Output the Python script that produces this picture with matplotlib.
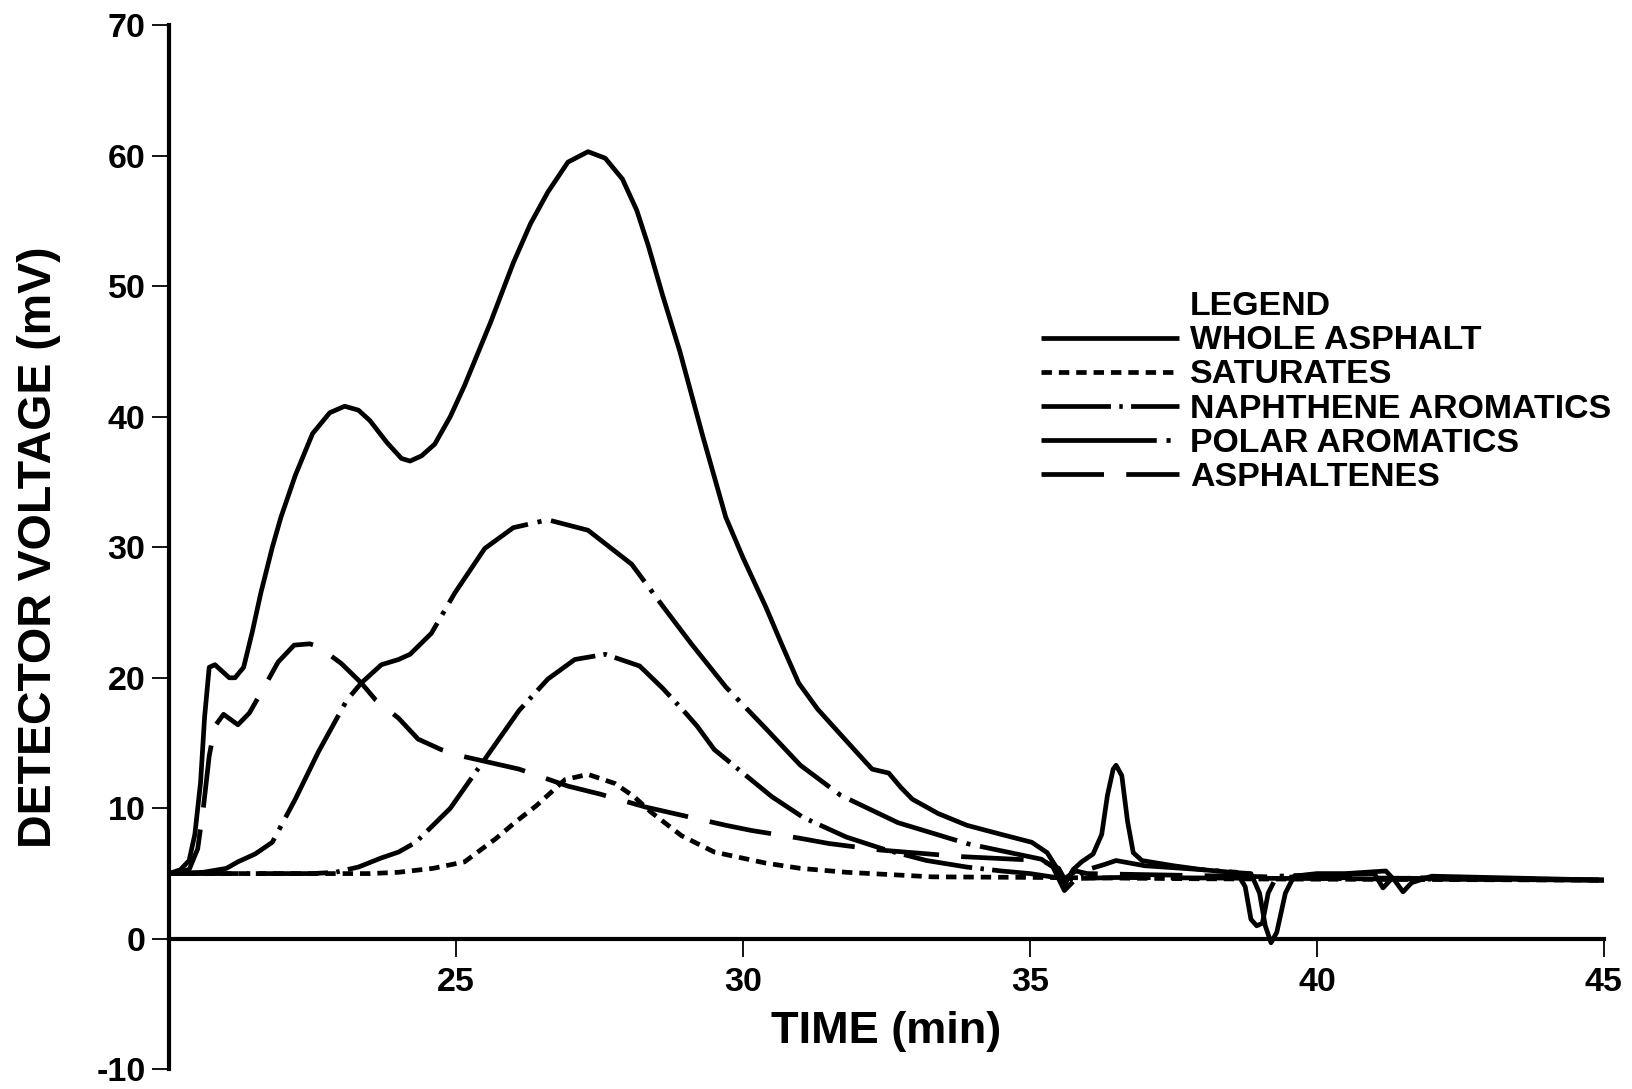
import numpy as np
import matplotlib
matplotlib.use("Agg")
import matplotlib.pyplot as plt
from matplotlib.lines import Line2D

# 데이터
t_whole = [20.0, 20.2, 20.35, 20.45, 20.55, 20.62, 20.7, 20.8, 20.9, 21.05, 21.15, 21.3, 21.45, 21.6,
           21.8, 21.95, 22.2, 22.5, 22.8, 23.06, 23.3, 23.5, 23.8, 24.05, 24.2, 24.4, 24.63, 24.9,
           25.15, 25.6, 26.0, 26.3, 26.6, 26.95, 27.3, 27.6, 27.9, 28.15, 28.35, 28.6, 28.9, 29.3,
           29.7, 30.0, 30.4, 30.7, 30.97, 31.3, 31.67, 32.0, 32.25, 32.54, 32.75, 32.95, 33.4, 33.9,
           34.5, 35.03, 35.3, 35.5, 35.6, 35.75, 35.9, 36.1, 36.25, 36.35, 36.45, 36.5, 36.6, 36.7,
           36.8, 36.95, 37.5, 38.0, 38.5, 38.85, 39.0, 39.1, 39.2, 39.3, 39.45, 39.6, 40.0, 40.5,
           41.2, 41.35, 41.5, 41.65, 42.0, 43.0, 44.0, 45.0]
v_whole = [5.0, 5.3, 6.0, 8.0, 12.0, 17.0, 20.8, 21.0, 20.6, 20.0, 20.0, 20.8, 23.5, 26.5,
           30.0, 32.3, 35.5, 38.7, 40.3, 40.8, 40.5, 39.7, 38.0, 36.8, 36.6, 37.0, 37.9, 40.0,
           42.4, 47.2, 51.8, 54.8, 57.2, 59.5, 60.3, 59.8, 58.2, 55.8, 53.1, 49.3, 45.0, 38.5,
           32.3, 29.2, 25.4, 22.3, 19.6, 17.6, 15.8, 14.2, 13.0, 12.7, 11.6, 10.7, 9.6, 8.7,
           8.0, 7.4, 6.6, 5.2, 4.1, 5.3, 5.9, 6.5, 8.0, 11.0, 13.0, 13.3, 12.5, 9.0,
           6.6, 6.0, 5.6, 5.3, 5.1, 5.0, 3.5, 1.0, -0.3, 0.5, 3.5, 4.8, 5.0, 5.0,
           5.2, 4.5, 3.6, 4.3, 4.8, 4.7, 4.6, 4.5]

t_sat = [20.0, 23.5, 24.0, 24.6, 25.15, 25.7, 26.05, 26.4, 26.9, 27.3, 27.77, 28.1, 28.4, 28.93,
         29.5, 30.4, 31.0, 31.8, 33.3, 35.3, 38.0, 45.0]
v_sat = [5.0, 5.0, 5.1, 5.4, 5.9, 7.7, 9.0, 10.2, 12.2, 12.6, 11.9, 10.9, 9.7, 7.9,
         6.65, 5.8, 5.4, 5.1, 4.75, 4.7, 4.6, 4.5]

t_naph = [20.0, 22.5, 22.9, 23.3, 23.7, 24.0, 24.3, 24.6, 24.9, 25.3, 25.7, 26.1, 26.6, 27.07,
          27.6, 28.2, 28.6, 29.0, 29.2, 29.5, 30.0, 30.5, 31.05, 31.8, 32.5, 33.2, 33.9, 34.5,
          35.0, 35.6, 36.5, 45.0]
v_naph = [5.0, 5.0, 5.1, 5.5, 6.2, 6.65, 7.4, 8.7, 10.0, 12.5, 15.0, 17.5, 19.9, 21.4,
          21.8, 20.9, 19.2, 17.3, 16.3, 14.5, 12.7, 10.9, 9.3, 7.8, 6.8, 6.0, 5.5, 5.2,
          5.0, 4.6, 4.7, 4.5]

t_polar = [20.0, 20.6, 21.0, 21.2, 21.5, 21.8, 22.2, 22.6, 23.1, 23.35, 23.7, 24.0, 24.2, 24.57,
           24.98, 25.5, 26.0, 26.6, 27.3, 28.06, 28.6, 29.1, 29.7, 30.4, 31.0, 31.7, 32.7, 33.9,
           35.2, 35.4, 35.6, 35.8, 36.0, 36.3, 36.5, 37.0, 38.0, 38.6, 38.75, 38.85, 38.95, 39.05,
           39.15, 39.3, 40.0, 41.0, 41.15, 41.3, 42.0, 45.0]
v_polar = [5.0, 5.1, 5.4, 5.9, 6.5, 7.4, 10.7, 14.3, 18.3, 19.6, 21.0, 21.4, 21.8, 23.4,
           26.5, 29.9, 31.5, 32.1, 31.3, 28.7, 25.5, 22.6, 19.3, 16.1, 13.3, 11.0, 8.9, 7.3,
           6.1, 5.5, 3.7, 4.6, 5.3, 5.7, 6.0, 5.6, 5.3, 5.1, 4.0, 1.5, 1.0, 1.2,
           3.5, 4.8, 4.9, 5.0, 3.9, 4.6, 4.7, 4.5]

t_asph = [20.0, 20.35, 20.5, 20.6, 20.7, 20.8, 20.95, 21.2, 21.4, 21.66, 21.9, 22.18, 22.45, 22.6,
          23.0, 23.35, 23.6, 24.0, 24.34, 24.74, 25.1, 25.6, 26.1, 26.95, 27.5, 28.3, 28.8, 29.2,
          29.7, 30.15, 31.0, 31.5, 32.4, 33.8, 35.2, 35.5, 35.6, 35.8, 36.0, 38.5, 40.0, 45.0]
v_asph = [5.0, 5.3, 6.9, 10.1, 14.0, 16.3, 17.2, 16.4, 17.3, 19.3, 21.2, 22.5, 22.6, 22.4,
          21.1, 19.6, 18.3, 16.9, 15.3, 14.5, 14.0, 13.5, 13.0, 11.7, 11.1, 10.1, 9.6, 9.2,
          8.7, 8.3, 7.7, 7.3, 6.8, 6.3, 6.0, 5.4, 4.6, 5.2, 5.0, 4.8, 4.7, 4.5]

labels = ["WHOLE ASPHALT", "SATURATES", "NAPHTHENE AROMATICS", "POLAR AROMATICS", "ASPHALTENES"]
x_ticks = [25, 30, 35, 40, 45]
y_ticks = [-10, 0, 10, 20, 30, 40, 50, 60, 70]

plt.rcParams['font.family'] = ['Liberation Sans', 'DejaVu Sans']
plt.rcParams['font.weight'] = 'bold'
plt.rcParams['lines.scale_dashes'] = False
plt.rcParams['axes.unicode_minus'] = False

fig = plt.figure(figsize=(16.33, 10.89), dpi=100)
ax = fig.add_axes([0.1035, 0.018, 0.8787, 0.959])

lw = 3.4
styles = ['-', (0, (7.5, 5)), (0, (50, 6, 2.5, 6)), (0, (83, 7, 3, 7)), (0, (45, 16))]
series = [(t_whole, v_whole), (t_sat, v_sat), (t_naph, v_naph), (t_polar, v_polar), (t_asph, v_asph)]
for (t, v), ls, lab in zip(series, styles, labels):
    ax.plot(t, v, color='black', lw=lw, linestyle=ls, label=lab, solid_capstyle='butt')

ax.set_xlim(20, 45)
ax.set_ylim(-10, 70)
ax.spines['top'].set_visible(False)
ax.spines['right'].set_visible(False)
ax.spines['bottom'].set_position(('data', 0))
ax.spines['left'].set_linewidth(3)
ax.spines['bottom'].set_linewidth(3)
ax.set_xticks(x_ticks)
ax.set_yticks(y_ticks)
ax.tick_params(axis='y', direction='out', length=12, width=1.3, labelsize=24.5, pad=5)
ax.tick_params(axis='x', direction='out', length=13, width=1.3, labelsize=24.5, pad=7)
# x축 제목은 축 좌표로 직접 배치
ax.text(0.5, 0.036, 'TIME (min)', transform=ax.transAxes, ha='center', va='center',
        fontsize=32.5, fontweight='bold')
ax.set_ylabel('DETECTOR VOLTAGE (mV)', fontsize=33.5, fontweight='bold', labelpad=25)

# 범례
handles = [Line2D([], [], color='none')] + ax.get_lines()
names = ['LEGEND'] + labels
leg = ax.legend(handles, names, loc='upper left', bbox_to_anchor=(0.608, 0.745),
                frameon=False, fontsize=24.4, handlelength=4.05, handletextpad=0.33,
                labelspacing=0.09, borderpad=0, borderaxespad=0)

fig.savefig('out.png', dpi=100)
